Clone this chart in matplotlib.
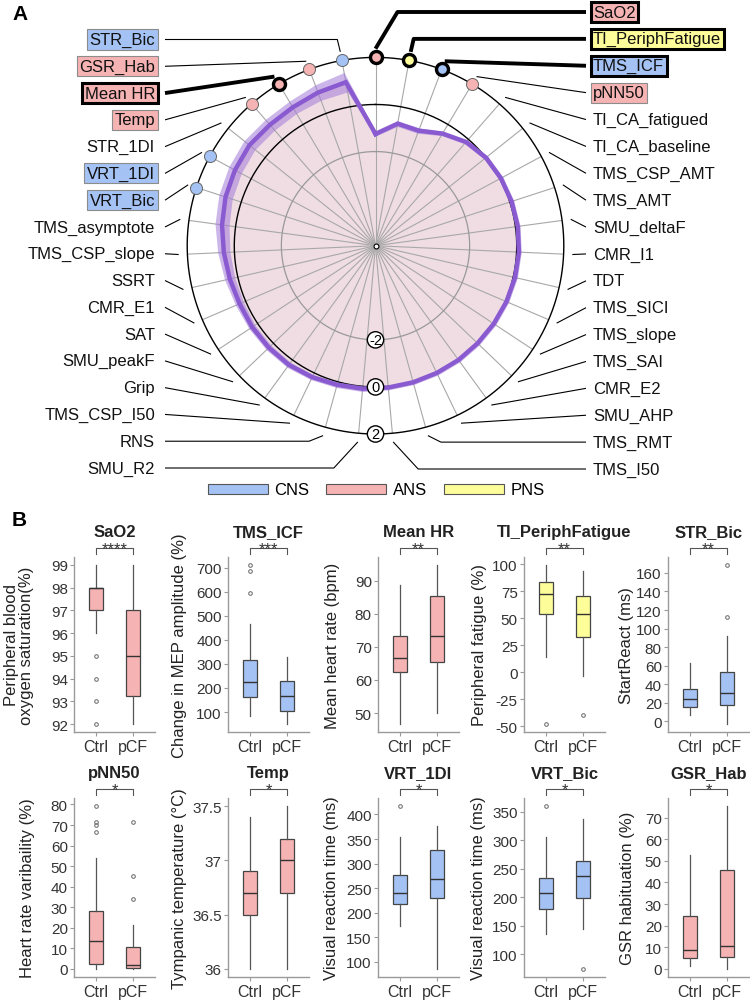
import numpy as np
import matplotlib
matplotlib.use('Agg')
import matplotlib.pyplot as plt
from matplotlib.patches import Patch
from matplotlib.ticker import FuncFormatter

plt.rcParams['font.family'] = ['Liberation Sans', 'DejaVu Sans']

# ---------------- panel A: radar of z-scores (clockwise from top) ----------------
radar_vars = ['SaO2', 'TI_PeriphFatigue', 'TMS_ICF', 'pNN50', 'TI_CA_fatigued',
              'TI_CA_baseline', 'TMS_CSP_AMT', 'TMS_AMT', 'SMU_deltaF', 'CMR_I1',
              'TDT', 'TMS_SICI', 'TMS_slope', 'TMS_SAI', 'CMR_E2', 'SMU_AHP',
              'TMS_RMT', 'TMS_I50', 'SMU_R2', 'RNS', 'TMS_CSP_I50', 'Grip',
              'SMU_peakF', 'SAT', 'CMR_E1', 'SSRT', 'TMS_CSP_slope',
              'TMS_asymptote', 'VRT_Bic', 'VRT_1DI', 'STR_1DI', 'Temp', 'Mean HR',
              'GSR_Hab', 'STR_Bic']
radar_mean = [-1.25, -0.73, -0.78, -0.45, -0.15, 0.0, 0.05, 0.08, 0.1, 0.1,
              0.08, 0.05, 0.02, 0.0, 0.0, 0.0, 0.02, 0.05, 0.1, 0.13, 0.2, 0.26,
              0.27, 0.28, 0.28, 0.35, 0.45, 0.58, 0.7, 0.78, 0.85, 0.82, 0.85,
              0.95, 1.06]
radar_err = [0.1, 0.12, 0.12, 0.1, 0.1, 0.1, 0.1, 0.1, 0.1, 0.1, 0.1, 0.1,
             0.1, 0.1, 0.1, 0.1, 0.1, 0.1, 0.12, 0.12, 0.12, 0.13, 0.14, 0.15,
             0.18, 0.22, 0.26, 0.3, 0.3, 0.3, 0.3, 0.3, 0.3, 0.35, 0.42]
# system of the significant variables ('' = not significant)
radar_system = ['ANS', 'PNS', 'CNS', 'ANS', '', '', '', '', '', '', '', '', '',
                '', '', '', '', '', '', '', '', '', '', '', '', '', '', '',
                'CNS', 'CNS', '', 'ANS', 'ANS', 'ANS', 'CNS']
radar_strong = ['SaO2', 'TI_PeriphFatigue', 'TMS_ICF', 'Mean HR']
radar_ticks = [-2, 0, 2]

system_names = ['CNS', 'ANS', 'PNS']
system_colors = {'CNS': '#a4c2f4', 'ANS': '#f6b3b3', 'PNS': '#fdfd99'}

# ---------------- panel B: boxplots ----------------
groups = ['Ctrl', 'pCF']
box_vars = ['SaO2', 'TMS_ICF', 'Mean HR', 'TI_PeriphFatigue', 'STR_Bic',
            'pNN50', 'Temp', 'VRT_1DI', 'VRT_Bic', 'GSR_Hab']
box_system = ['ANS', 'CNS', 'ANS', 'PNS', 'CNS', 'ANS', 'ANS', 'CNS', 'CNS', 'ANS']
box_ylabels = ['Peripheral blood\noxygen saturation(%)',
               'Change in MEP amplitude (%)', 'Mean heart rate (bpm)',
               'Peripheral fatigue (%)', 'StartReact (ms)',
               'Heart rate varibaility (%)', 'Tympanic temperature (\u00b0C)',
               'Visual reaction time (ms)', 'Visual reaction time (ms)',
               'GSR habituation (%)']
box_stars = ['****', '***', '**', '**', '**', '*', '*', '*', '*', '*']
# (whisker low, q1, median, q3, whisker high)
ctrl_box = [(96, 97, 98, 98, 99), (82, 161, 224, 317, 467),
            (46.7, 62.5, 66.5, 73.2, 88.7), (14.4, 54.2, 72.5, 83.3, 99.2),
            (6.4, 15, 24.3, 35, 63.2), (0, 2.6, 13.6, 28.4, 54.1),
            (36.0, 36.5, 36.7, 36.9, 37.4), (173, 217, 240, 277, 355),
            (135, 180, 208, 233, 305), (1.4, 5.2, 8.9, 24.3, 52.7)]
pcf_box = [(92, 93.25, 95, 97, 99), (50, 105, 168, 228, 328),
           (50, 65.5, 73.3, 85.3, 94.7), (-3, 32.8, 54.2, 70.4, 93.4),
           (-2.9, 17.1, 30.3, 53.6, 91.8), (0, 0.2, 1.7, 10.7, 21.3),
           (36.0, 36.7, 37.0, 37.2, 37.5), (86, 230, 268, 327, 376),
           (144, 198, 237, 264, 338), (0, 5.4, 10.6, 45.8, 75.3)]
ctrl_out = [[95, 94, 93, 92], [712, 688, 596], [], [-47.8], [],
            [66.6, 70.2, 71.3, 79.2], [], [417], [360], []]
pcf_out = [[], [], [], [-39.8], [112.5, 168.6], [33.9, 45.4, 71.6], [], [],
           [74], []]
box_yticks = [[92, 93, 94, 95, 96, 97, 98, 99],
              [100, 200, 300, 400, 500, 600, 700],
              [50, 60, 70, 80, 90],
              [-50, -25, 0, 25, 50, 75, 100],
              [0, 20, 40, 60, 80, 100, 120, 140, 160],
              [0, 10, 20, 30, 40, 50, 60, 70, 80],
              [36, 36.5, 37, 37.5],
              [100, 150, 200, 250, 300, 350, 400],
              [100, 150, 200, 250, 300, 350],
              [0, 10, 20, 30, 40, 50, 60, 70]]

# ---------------- layout ----------------
W, H = 750, 1003
fig = plt.figure(figsize=(W / 100, H / 100), dpi=100)


def px_axes(l, t, w, h, **kw):
    return fig.add_axes([l / W, 1 - (t + h) / H, w / W, h / H], **kw)


# radar
cx, cy, R = 375.5, 246.7, 188.3
ax = px_axes(cx - R, cy - R, 2 * R, 2 * R, projection='polar')
ax.set_theta_zero_location('N')
ax.set_theta_direction(-1)
ax.set_ylim(-6, 2)
ax.grid(False)
ax.set_xticks([])
ax.set_yticks([])
ax.spines['polar'].set_visible(False)

n = len(radar_vars)
theta = np.arange(n) * 2 * np.pi / n
tc = np.append(theta, 2 * np.pi)
mean = np.array(radar_mean)
err = np.array(radar_err)
mc = np.append(mean, mean[0])
ec = np.append(err, err[0])

ax.fill(tc, mc, color='#f0dde4', zorder=1, lw=0)
for t in theta:
    ax.plot([t, t], [-6, 2], color='#a8a8a8', lw=0.8, zorder=2)
circ = np.linspace(0, 2 * np.pi, 400)
ax.plot(circ, np.full_like(circ, -2), color='#999999', lw=0.9, zorder=2)
ax.plot(circ, np.full_like(circ, 0), color='black', lw=1.0, zorder=2)
ax.plot(circ, np.full_like(circ, 2), color='black', lw=1.0, zorder=2, clip_on=False)
ax.fill_between(tc, mc - ec, mc + ec, color='#a27bd8', alpha=0.55, lw=0, zorder=3)
ax.plot(tc, mc, color='#8a5ad0', lw=3.2, zorder=4, solid_joinstyle='miter')
ax.plot([0], [-6], 'o', ms=3.5, mfc='white', mec='black', mew=0.8, zorder=5)

for t, name, sysname in zip(theta, radar_vars, radar_system):
    if not sysname:
        continue
    strong = name in radar_strong
    ax.scatter([t], [2], s=75, color=system_colors[sysname],
               edgecolor='black' if strong else '#666666',
               linewidth=2.4 if strong else 0.7, zorder=6, clip_on=False)

for v in radar_ticks:
    ax.text(np.pi, v, str(v), ha='center', va='center', fontsize=10.5, zorder=7,
            bbox=dict(boxstyle='circle,pad=0.08', fc='white', ec='black', lw=1))

# overlay in pixel coordinates for labels / connectors
ov = fig.add_axes([0, 0, 1, 1])
ov.set_xlim(0, W)
ov.set_ylim(H, 0)
ov.axis('off')
ov.patch.set_visible(False)

inv = ov.transData.inverted()
right_idx = list(range(0, 18))
left_idx = list(range(n - 1, 17, -1))
right_y = np.linspace(13, 470, len(right_idx))
left_y = np.linspace(40.5, 469, len(left_idx))
elbow_dx = {'STR_Bic': 3, 'TI_PeriphFatigue': 3, 'SaO2': 22, 'SMU_R2': 24,
            'RNS': 14, 'TMS_I50': 25, 'TMS_RMT': 13}

for side, idxs, ys in (('L', left_idx, left_y), ('R', right_idx, right_y)):
    for i, y in zip(idxs, ys):
        name = radar_vars[i]
        sysname = radar_system[i]
        strong = name in radar_strong
        ex, ey = inv.transform(ax.transData.transform((theta[i], 2.37)))
        x_text = 155 if side == 'L' else 593
        x_line = 165 if side == 'L' else 586
        if name in elbow_dx:
            k = -1 if side == 'L' else 1
            xs = [x_line, ex + k * elbow_dx[name], ex]
            yy = [y, y, ey]
        else:
            xs = [x_line, ex]
            yy = [y, ey]
        ov.plot(xs, yy, color='black', lw=2.8 if strong else 0.8,
                solid_capstyle='butt')
        kw = {}
        if sysname:
            kw['bbox'] = dict(boxstyle='square,pad=0.15', fc=system_colors[sysname],
                              ec='black' if strong else '#8c8c8c',
                              lw=2.2 if strong else 0.8)
        ov.text(x_text, y, name, ha='right' if side == 'L' else 'left',
                va='center', fontsize=12, color='#111111', **kw)

handles = [Patch(fc=system_colors[s], ec='#555555', lw=0.8) for s in system_names]
fig.legend(handles, system_names, ncol=3, loc='center',
           bbox_to_anchor=(376 / W, 1 - 491 / H), handlelength=3.6,
           handleheight=0.55, handletextpad=0.4, columnspacing=1.0,
           fontsize=12, frameon=False)

ov.text(12, 14, 'A', fontsize=15, fontweight='bold', va='center')
ov.text(12, 520, 'B', fontsize=15, fontweight='bold', va='center')

# boxplots
col_left = [74, 228, 378, 524, 668]
row_top = [558, 799]
row_h = [175, 179]
ax_w = 81
# right edge (px) of each y-axis title
ylabel_x = [34, 187, 340, 487, 634, 35, 187, 339, 486, 635]

for k in range(len(box_vars)):
    r, c = divmod(k, 5)
    bx = px_axes(col_left[c], row_top[r], ax_w, row_h[r])
    bx.set_zorder(0)
    stats = []
    for b, out in ((ctrl_box[k], ctrl_out[k]), (pcf_box[k], pcf_out[k])):
        stats.append(dict(whislo=b[0], q1=b[1], med=b[2], q3=b[3], whishi=b[4],
                          fliers=out))
    col = system_colors[box_system[k]]
    bx.bxp(stats, positions=[1, 2], widths=0.37, patch_artist=True,
           showcaps=False,
           boxprops=dict(facecolor=col, edgecolor='#444444', lw=0.9),
           whiskerprops=dict(color='#555555', lw=0.9),
           medianprops=dict(color='#333333', lw=1.0),
           flierprops=dict(marker='o', ms=2.6, mfc='none', mec='#777777', mew=0.8))
    allv = [v for b in (ctrl_box[k], pcf_box[k]) for v in b] + ctrl_out[k] + pcf_out[k]
    lo, hi = min(allv), max(allv)
    pad = 0.05 * (hi - lo)
    bx.set_ylim(lo - pad, hi + pad)
    bx.set_xlim(0.4, 2.6)
    bx.set_xticks([1, 2], groups)
    bx.set_yticks(box_yticks[k])
    bx.yaxis.set_major_formatter(FuncFormatter(lambda v, p: '%g' % v))
    for s in ('top', 'right'):
        bx.spines[s].set_visible(False)
    for s in ('left', 'bottom'):
        bx.spines[s].set_color('#9a9a9a')
        bx.spines[s].set_linewidth(1.0)
    bx.tick_params(axis='both', length=3, color='#9a9a9a', labelcolor='#333333')
    bx.tick_params(axis='x', labelsize=11.5, pad=2)
    bx.tick_params(axis='y', labelsize=11, pad=1.5)
    bx.set_ylabel(box_ylabels[k], fontsize=12, color='#222222', linespacing=1.0)
    bx.yaxis.set_label_coords((ylabel_x[k] - col_left[c]) / ax_w, 0.5)
    bx.set_title(box_vars[k], fontsize=12, fontweight='bold', color='#222222',
                 pad=15)
    h = row_h[r]
    tr = bx.get_xaxis_transform()
    yl = 1 + 9 / h
    bx.plot([1, 1, 2, 2], [1 + 3 / h, yl, yl, 1 + 3 / h], color='#555555',
            lw=0.8, transform=tr, clip_on=False)
    bx.text(1.5, 1 + 4 / h, box_stars[k], ha='center', va='baseline',
            fontsize=12, color='#333333', transform=tr)

fig.savefig('out.png', dpi=100)
